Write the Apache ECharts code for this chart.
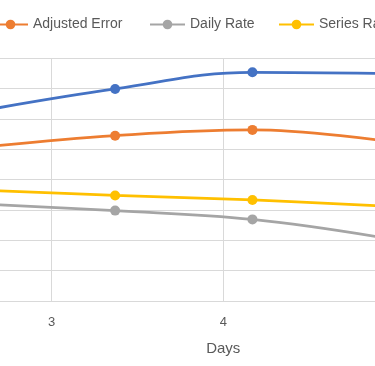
<!DOCTYPE html>
<html><head><meta charset="utf-8">
<script src="https://cdn.jsdelivr.net/npm/echarts@6/dist/echarts.min.js"></script>
<style>html,body{margin:0;padding:0;background:#fff}#c{width:375px;height:366px}</style>
</head><body><div id="c"></div>
<script>
const seriesNames = ['Total Rate', 'Adjusted Error', 'Daily Rate', 'Series Rate'];
const days = [2.58, 3.37, 4.17, 4.96];
const totalRate = [62.6, 69.9, 75.4, 75.0];
const adjustedError = [50.6, 54.5, 56.4, 52.6];
const dailyRate = [32.0, 29.8, 26.9, 20.6];
const seriesRate = [36.6, 34.8, 33.3, 31.2];
const xAxisTitle = 'Days';
const xMin = 2, xMax = 6, xStep = 1;
const yMin = 0, yMax = 80, yStep = 10;

const colors = ['#4472C4', '#ED7D31', '#A5A5A5', '#FFC000'];
const values = [totalRate, adjustedError, dailyRate, seriesRate];
const legendLeft = [-160, -8, 149, 278];

const chart = echarts.init(document.getElementById('c'), null, {renderer: 'canvas'});
chart.setOption({
  animation: false,
  backgroundColor: '#ffffff',
  color: colors,
  textStyle: {fontFamily: '"Liberation Sans", Arial, sans-serif'},
  legend: seriesNames.map((n, i) => ({
    data: [n],
    left: legendLeft[i],
    top: 17.5,
    padding: 0,
    itemWidth: 35,
    itemHeight: 12,
    textStyle: {color: '#595959', fontSize: 14, fontFamily: '"Liberation Sans", Arial, sans-serif'}
  })),
  grid: {left: -120, right: -191.5, top: 58.3, bottom: 65, containLabel: false, outerBoundsMode: 'none'},
  xAxis: {
    type: 'value', min: xMin, max: xMax, interval: xStep,
    name: xAxisTitle, nameLocation: 'middle', nameGap: 40,
    nameTextStyle: {color: '#595959', fontSize: 15},
    axisLine: {show: true, lineStyle: {color: '#D9D9D9', width: 1}},
    axisTick: {show: false},
    axisLabel: {color: '#595959', fontSize: 13, margin: 15},
    splitLine: {show: true, lineStyle: {color: '#D9D9D9', width: 1}}
  },
  yAxis: {
    type: 'value', min: yMin, max: yMax, interval: yStep,
    axisLine: {show: false}, axisTick: {show: false},
    axisLabel: {show: false},
    splitLine: {show: true, lineStyle: {color: '#D9D9D9', width: 1}}
  },
  series: seriesNames.map((n, i) => ({
    name: n,
    type: 'line',
    smooth: 0.4,
    symbol: 'circle',
    symbolSize: 10,
    lineStyle: {width: 2.75, color: colors[i]},
    itemStyle: {color: colors[i]},
    data: days.map((d, j) => [d, values[i][j]])
  }))
});
</script></body></html>
